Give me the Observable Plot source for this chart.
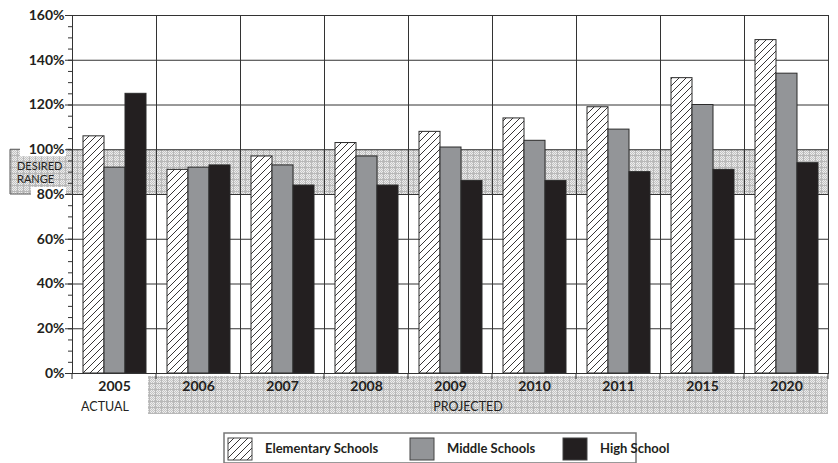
<!DOCTYPE html>
<html>
<head>
<meta charset="utf-8">
<script src="https://cdn.jsdelivr.net/npm/d3@7"></script>
<script src="https://cdn.jsdelivr.net/npm/@observablehq/plot@0.6"></script>
<style>
  html, body { margin: 0; padding: 0; background: #fff; }
  #chart { width: 838px; height: 463px; overflow: hidden; }
</style>
</head>
<body>
<div id="chart"></div>
<script>
// ---- data ----
const years = ["2005", "2006", "2007", "2008", "2009", "2010", "2011", "2015", "2020"];
const seriesNames = ["Elementary Schools", "Middle Schools", "High School"];
const elementary = [106, 91, 97, 103, 108, 114, 119, 132, 149];
const middle = [92, 92, 93, 97, 101, 104, 109, 120, 134];
const high = [125, 93, 84, 84, 86, 86, 90, 91, 94];
const yTicks = [0, 20, 40, 60, 80, 100, 120, 140, 160];
const minorTicks = d3.range(0, 161, 5);
const desiredRange = [80, 100];
const actualLabel = "ACTUAL";
const projectedLabel = "PROJECTED";
const desiredLabel = ["DESIRED", "RANGE"];

const valuesBySeries = [elementary, middle, high];
const rows = [];
years.forEach((yr, i) => {
  seriesNames.forEach((s, j) => rows.push({year: yr, series: s, value: valuesBySeries[j][i]}));
});

const fills = ["url(#hatch)", "#939598", "#231f20"];
const ink = "#231f20";
const lineColor = "#333";

const plot = Plot.plot({
  width: 838,
  height: 463,
  marginTop: 15,
  marginBottom: 90,
  marginLeft: 71,
  marginRight: 10,
  style: {fontFamily: "Lato, 'Open Sans', sans-serif", color: ink, background: "transparent", overflow: "visible"},
  fx: {domain: years, padding: 0, axis: null, label: null},
  x: {domain: seriesNames, paddingInner: 0, paddingOuter: 0.5, axis: null},
  y: {domain: [0, 160], axis: null},
  color: {type: "ordinal", domain: seriesNames, range: fills},
  marks: [
    Plot.gridY({ticks: yTicks, stroke: lineColor, strokeOpacity: 1}),
    Plot.barY(rows, {fx: "year", x: "series", y: "value", fill: "series", stroke: "#2b2b2b", strokeWidth: 1}),
    Plot.frame({stroke: lineColor}),
    Plot.axisY({ticks: minorTicks, tickSize: 4, tickFormat: () => "", label: null, stroke: lineColor}),
    Plot.axisY({ticks: yTicks, tickSize: 7, tickPadding: 1, tickFormat: d => d + "%", label: null,
                fontSize: 14, fontWeight: "bold", stroke: lineColor, fill: ink}),
    Plot.axisFx({anchor: "bottom", tickSize: 0, tickPadding: 8, label: null, fontSize: 14, fontWeight: "bold", fill: ink})
  ]
});

document.getElementById("chart").appendChild(plot);

const svg = d3.select(plot);
const y = plot.scale("y");
const fx = plot.scale("fx");
const y0 = y.apply(0);
const yTop = y.apply(desiredRange[1]);
const yBot = y.apply(desiredRange[0]);
const left = 71, right = 828;

// ---- underlay (drawn first, beneath plot marks) ----
const under = svg.insert("g", ":first-child").attr("text-anchor", "start");
const defs = svg.insert("defs", ":first-child");

// stipple pattern
const stip = defs.append("pattern").attr("id", "stipple").attr("patternUnits", "userSpaceOnUse")
  .attr("width", 6).attr("height", 6);
stip.append("rect").attr("width", 6).attr("height", 6).attr("fill", "#ececec");
for (let i = 0; i < 6; i++) for (let j = 0; j < 6; j++) {
  if ((i + j) % 2 === 0) stip.append("rect").attr("x", i).attr("y", j).attr("width", 1).attr("height", 1).attr("fill", "#c4c4c4");
}
stip.append("rect").attr("x", 0).attr("y", 5).attr("width", 6).attr("height", 1).attr("fill", "#b8b8b8");
stip.append("rect").attr("x", 5).attr("y", 0).attr("width", 1).attr("height", 6).attr("fill", "#b8b8b8");

// hatch pattern
const hatch = defs.append("pattern").attr("id", "hatch").attr("patternUnits", "userSpaceOnUse")
  .attr("width", 7).attr("height", 7);
hatch.append("rect").attr("width", 7).attr("height", 7).attr("fill", "#fff");
hatch.append("path").attr("d", "M-1,8 L8,-1 M-1,1 L1,-1 M6,8 L8,6")
  .attr("stroke", ink).attr("stroke-width", 0.9).attr("fill", "none");

// desired range band
under.append("rect").attr("x", 10).attr("y", yTop).attr("width", right - 10).attr("height", yBot - yTop)
  .attr("fill", "url(#stipple)");
under.append("path").attr("d", `M${left},${yTop}H10V${yBot}H${left}`)
  .attr("fill", "none").attr("stroke", "#555").attr("stroke-width", 1);
// white label backgrounds for 100% and 80%
under.append("rect").attr("x", 20).attr("y", yTop - 7).attr("width", 46).attr("height", 14).attr("fill", "#fff");
under.append("rect").attr("x", 31).attr("y", yBot - 7).attr("width", 35).attr("height", 14).attr("fill", "#fff");
under.append("text").attr("x", 17).attr("y", 170).text(desiredLabel[0])
  .attr("font-family", "Lato, sans-serif").attr("font-size", 11).attr("fill", ink);
under.append("text").attr("x", 17).attr("y", 183).text(desiredLabel[1])
  .attr("font-family", "Lato, sans-serif").attr("font-size", 11).attr("fill", ink);

// projected band
under.append("rect").attr("x", 148).attr("y", y0 + 3).attr("width", right - 148).attr("height", 38)
  .attr("fill", "url(#stipple)");

// ---- overlay ----
const over = svg.append("g");
const bounds = years.map(d => fx.apply(d)).concat([right]);
bounds.forEach(bx => {
  over.append("line").attr("x1", bx).attr("x2", bx).attr("y1", y0).attr("y2", y0 + 6)
    .attr("stroke", lineColor).attr("stroke-width", 1);
});
over.append("text").attr("x", 105).attr("y", 411).attr("text-anchor", "middle").text(actualLabel)
  .attr("font-family", "Lato, sans-serif").attr("font-size", 12.5).attr("fill", ink);
over.append("text").attr("x", 468).attr("y", 411).attr("text-anchor", "middle").text(projectedLabel)
  .attr("font-family", "Lato, sans-serif").attr("font-size", 12.5).attr("fill", ink);

// ---- legend ----
const lg = svg.append("g").attr("font-family", "Lato, sans-serif").attr("font-size", 13)
  .attr("font-weight", "bold").attr("text-anchor", "start");
lg.append("rect").attr("x", 224).attr("y", 433).attr("width", 412).attr("height", 30)
  .attr("fill", "#fff").attr("stroke", "#777").attr("stroke-width", 1.5);
const legendX = [228, 410, 563];
seriesNames.forEach((s, i) => {
  lg.append("rect").attr("x", legendX[i]).attr("y", 438).attr("width", 24).attr("height", 22)
    .attr("fill", fills[i]).attr("stroke", "#444").attr("stroke-width", 1);
  lg.append("text").attr("x", legendX[i] + 37).attr("y", 453).text(s).attr("fill", ink);
});
</script>
</body>
</html>
